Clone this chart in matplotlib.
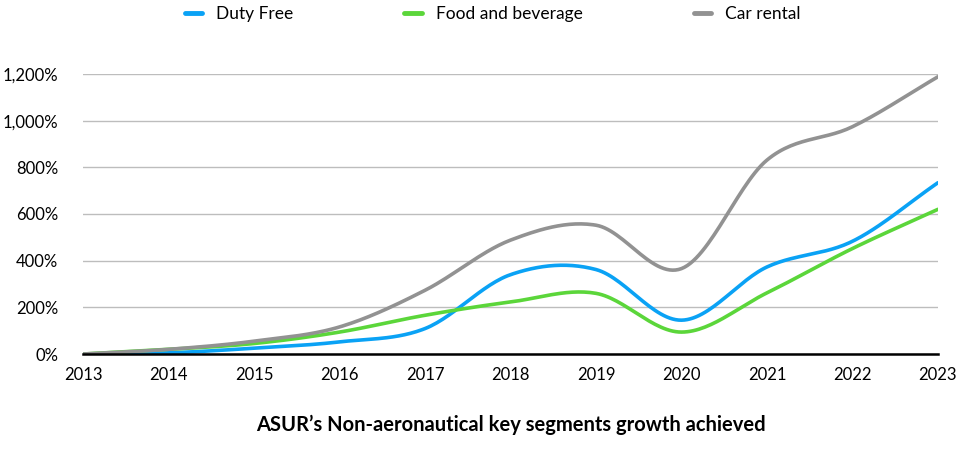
import matplotlib.pyplot as plt
import numpy as np
from matplotlib.ticker import FuncFormatter

# growth vs 2013 (%)
years = [2013, 2014, 2015, 2016, 2017, 2018, 2019, 2020, 2021, 2022, 2023]
duty_free = [0, 5, 25, 52, 109, 340, 362, 145, 373, 483, 734]
food_bev = [0, 20, 45, 94, 166, 223, 260, 94, 262, 452, 620]
car_rental = [0, 20, 55, 116, 273, 488, 552, 366, 831, 974, 1188]


def smooth(x, y, n=30):
    # catmull-rom style curve through the points (like excel's smoothed line)
    x = np.asarray(x, float)
    y = np.asarray(y, float)
    px = np.concatenate([[2 * x[0] - x[1]], x, [2 * x[-1] - x[-2]]])
    py = np.concatenate([[2 * y[0] - y[1]], y, [2 * y[-1] - y[-2]]])
    xs, ys = [], []
    t = np.linspace(0, 1, n)
    for i in range(1, len(px) - 2):
        p0, p1, p2, p3 = py[i - 1], py[i], py[i + 1], py[i + 2]
        q0, q1, q2, q3 = px[i - 1], px[i], px[i + 1], px[i + 2]
        # bezier control points
        c1y = p1 + (p2 - p0) / 6
        c2y = p2 - (p3 - p1) / 6
        c1x = q1 + (q2 - q0) / 6
        c2x = q2 - (q3 - q1) / 6
        b = [(1 - t) ** 3, 3 * (1 - t) ** 2 * t, 3 * (1 - t) * t ** 2, t ** 3]
        xs.append(b[0] * q1 + b[1] * c1x + b[2] * c2x + b[3] * q2)
        ys.append(b[0] * p1 + b[1] * c1y + b[2] * c2y + b[3] * p2)
    return np.concatenate(xs), np.concatenate(ys)


plt.rcParams['font.family'] = ['Lato', 'DejaVu Sans']

fig = plt.figure(figsize=(9.6, 4.5), dpi=100)
ax = fig.add_axes([0.0865, 0.2133, 0.8905, 0.6223])

for vals, color, label in [(duty_free, '#0AA2F5', 'Duty Free'),
                           (food_bev, '#5BD63A', 'Food and beverage'),
                           (car_rental, '#929292', 'Car rental')]:
    sx, sy = smooth(years, vals)
    ax.plot(sx, sy, color=color, lw=2.6, label=label, solid_capstyle='round')

ax.set_xlim(2013, 2023)
ax.set_ylim(0, 1200)
ax.set_xticks(years)
ax.set_yticks(range(0, 1201, 200))
ax.yaxis.set_major_formatter(FuncFormatter(lambda v, p: f'{int(v):,}%'))
ax.grid(axis='y', color='#BDBDBD', lw=1)
ax.set_axisbelow(True)
for s in ['top', 'right', 'left']:
    ax.spines[s].set_visible(False)
ax.spines['bottom'].set_color('black')
ax.spines['bottom'].set_linewidth(1.8)
ax.spines['bottom'].set_zorder(5)
ax.tick_params(length=0, labelsize=12, colors='black')
ax.tick_params(axis='y', pad=18)
ax.tick_params(axis='x', pad=9)

leg = fig.legend(loc='upper center', bbox_to_anchor=(0.513, 1.022), ncol=3, frameon=False,
                 fontsize=12.5, handlelength=1.0, handletextpad=0.8, columnspacing=6.4)
for h in leg.get_lines():
    h.set_linewidth(3.5)

fig.text(0.532, 0.055, 'ASUR’s Non-aeronautical key segments growth achieved',
         ha='center', va='center', fontsize=14.5, fontweight='bold')

fig.savefig('out.png', dpi=100)
